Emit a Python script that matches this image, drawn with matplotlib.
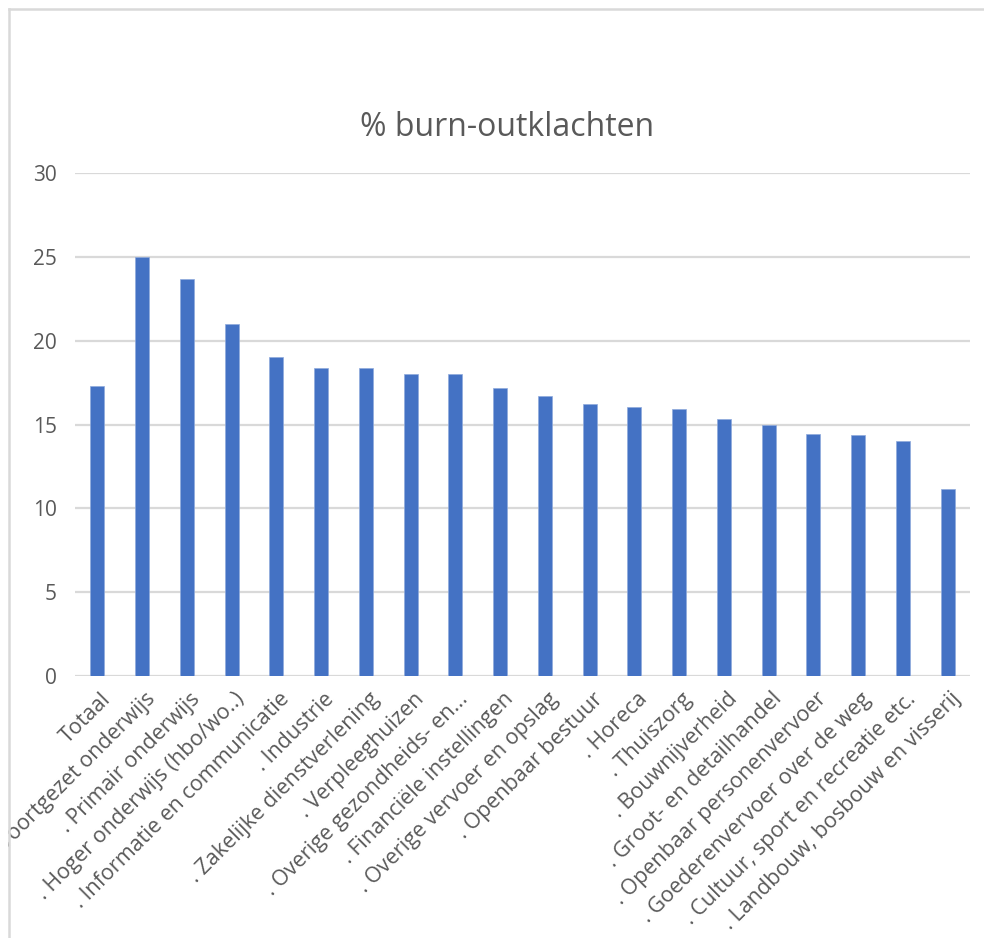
import matplotlib
matplotlib.use("Agg")
import matplotlib.pyplot as plt
from matplotlib.patches import Rectangle
from matplotlib.lines import Line2D
import matplotlib.transforms as mtransforms

plt.rcParams['font.family'] = ['Open Sans', 'DejaVu Sans']

categories = [
    "Totaal",
    ". Voortgezet onderwijs",
    ". Primair onderwijs",
    ". Hoger onderwijs (hbo/wo..)",
    ". Informatie en communicatie",
    ". Industrie",
    ". Zakelijke dienstverlening",
    ". Verpleeghuizen",
    ". Overige gezondheids- en...",
    ". Financiële instellingen",
    ". Overige vervoer en opslag",
    ". Openbaar bestuur",
    ". Horeca",
    ". Thuiszorg",
    ". Bouwnijverheid",
    ". Groot- en detailhandel",
    ". Openbaar personenvervoer",
    ". Goederenvervoer over de weg",
    ". Cultuur, sport en recreatie etc.",
    ". Landbouw, bosbouw en visserij",
]
values = [17.3, 25.0, 23.7, 21.0, 19.05, 18.35, 18.35, 18.0, 18.0, 17.2,
          16.7, 16.2, 16.05, 15.9, 15.35, 15.0, 14.45, 14.35, 14.0, 11.15]
yticks = [0, 5, 10, 15, 20, 25, 30]

W, H = 984, 938
fig = plt.figure(figsize=(W / 100, H / 100), dpi=100)
ax = fig.add_axes([75 / W, (H - 676) / H, (970 - 75) / W, (676 - 173) / H])

x = list(range(len(categories)))
ax.bar(x, values, width=0.31, color="#4472C4", edgecolor="#8FAADC", linewidth=0.5, zorder=3)
ax.set_xlim(-0.5, len(categories) - 0.5)
ax.set_ylim(0, 30)
ax.set_yticks(yticks)
ax.yaxis.grid(True, color="#d9d9d9", linewidth=1.6, zorder=0)
ax.set_axisbelow(True)
for s in ax.spines.values():
    s.set_visible(False)
ax.tick_params(axis="both", length=0, labelcolor="#595959", labelsize=15)
ax.tick_params(axis="x", labelsize=15.5)
ax.tick_params(axis="y", pad=13)

ax.set_xticks(x)
ax.set_xticklabels(categories, rotation=45, ha="right", va="center",
                   rotation_mode="anchor")
offset = mtransforms.ScaledTranslation(10 / 100, -15 / 100, fig.dpi_scale_trans)
for lbl in ax.get_xticklabels():
    lbl.set_transform(lbl.get_transform() + offset)

fig.text(507 / W, 1 - 128 / H, "% burn-outklachten", ha="center", va="center",
         fontsize=23, color="#595959")

# chart border (cropped) and clipping on the left
fig.add_artist(Rectangle((0, 0), 8 / W, 1, transform=fig.transFigure,
                         facecolor="white", edgecolor="none", zorder=10))
fig.add_artist(Rectangle((0, 1 - 8 / H), 1, 8 / H, transform=fig.transFigure,
                         facecolor="white", edgecolor="none", zorder=10))
fig.add_artist(Line2D([9 / W, 9 / W], [0, 1 - 9 / H], transform=fig.transFigure,
                      color="#d9d9d9", linewidth=1.8, zorder=11))
fig.add_artist(Line2D([9 / W, 1], [1 - 9 / H, 1 - 9 / H], transform=fig.transFigure,
                      color="#d9d9d9", linewidth=1.8, zorder=11))

fig.savefig("out.png", dpi=100, facecolor="white")
